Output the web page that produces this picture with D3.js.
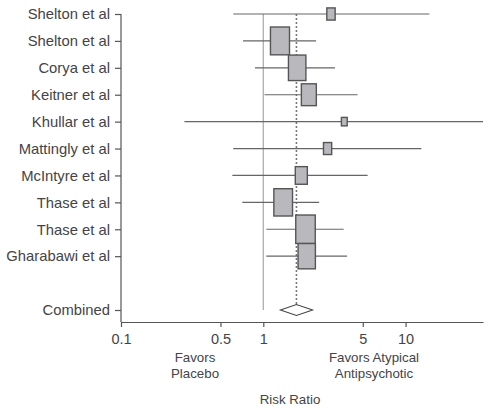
<!DOCTYPE html>
<html>
<head>
<meta charset="utf-8">
<script src="https://cdn.jsdelivr.net/npm/d3@7"></script>
<style>
  html, body { margin: 0; padding: 0; background: #fff; }
  svg { display: block; }
  text { font-family: "Liberation Sans", Arial, Helvetica, sans-serif; }
</style>
</head>
<body>
<svg id="chart" width="488" height="408"></svg>
<script>
// ---- data ----
const studies = ["Shelton et al", "Shelton et al", "Corya et al", "Keitner et al", "Khullar et al",
                 "Mattingly et al", "McIntyre et al", "Thase et al", "Thase et al", "Gharabawi et al"];
const riskRatio = [2.99, 1.31, 1.73, 2.09, 3.71, 2.83, 1.85, 1.38, 1.98, 2.02];
const ciLower   = [0.615, 0.72, 0.874, 1.02, 0.279, 0.615, 0.606, 0.712, 1.05, 1.05];
const ciUpper   = [14.7, 2.35, 3.19, 4.6, 35, 12.9, 5.41, 2.47, 3.67, 3.88];
const weights   = [3.1, 16.2, 13.6, 10.0, 1.5, 3.0, 6.5, 15.6, 17.0, 13.4];
const combined  = { label: "Combined", rr: 1.71, lower: 1.32, upper: 2.22 };
const tickValues = [0.1, 0.5, 1, 5, 10];
const tickLabels = ["0.1", "0.5", "1", "5", "10"];

// ---- layout ----
const svg = d3.select("#chart");
const axisY = 322;
const textColor = "#444";

const x = d3.scaleLog().domain([0.1, 35]).range([121, 483]);
const slots = d3.range(12);
const y = d3.scalePoint().domain(slots).range([14, 310]);
const bw = d3.scaleSqrt().domain([0, 17]).range([0, 19.5]);
const bh = d3.scaleSqrt().domain([0, 17]).range([0, 28.5]);

const rows = studies.map((s, i) => ({ label: s, rr: riskRatio[i], lo: ciLower[i], hi: ciUpper[i], w: weights[i], slot: i }));

// reference line at 1
svg.append("line")
  .attr("x1", x(1)).attr("x2", x(1))
  .attr("y1", y(0)).attr("y2", y(11))
  .attr("stroke", "#a8a8a8").attr("stroke-width", 1.2);

// dotted combined line
svg.append("line")
  .attr("x1", x(combined.rr)).attr("x2", x(combined.rr))
  .attr("y1", y(0)).attr("y2", y(11) - 5)
  .attr("stroke", "#777").attr("stroke-width", 1.6)
  .attr("stroke-dasharray", "2,2");

// CI lines
svg.append("g").selectAll("line").data(rows).join("line")
  .attr("x1", d => x(d.lo)).attr("x2", d => x(d.hi))
  .attr("y1", d => y(d.slot)).attr("y2", d => y(d.slot))
  .attr("stroke", "#666").attr("stroke-width", 1.2);

// boxes
svg.append("g").selectAll("rect").data(rows).join("rect")
  .attr("x", d => x(d.rr) - bw(d.w) / 2)
  .attr("y", d => y(d.slot) - bh(d.w) / 2)
  .attr("width", d => bw(d.w))
  .attr("height", d => bh(d.w))
  .attr("fill", "#b9b9bd").attr("stroke", "#555").attr("stroke-width", 1.4);

// combined diamond
const cy = y(11);
svg.append("path")
  .attr("d", `M${x(combined.lower)},${cy} L${x(combined.rr)},${cy - 5.5} L${x(combined.upper)},${cy} L${x(combined.rr)},${cy + 5.5} Z`)
  .attr("fill", "#fff").attr("stroke", "#444").attr("stroke-width", 1.1);

// y axis
const yLabels = studies.concat(["", combined.label]);
const yAxis = d3.axisLeft(y).tickSize(6).tickFormat(i => yLabels[i]);
const gy = svg.append("g").attr("transform", `translate(${x(0.1)},0)`).call(yAxis);
gy.select(".domain").remove();
gy.selectAll(".tick").filter(i => yLabels[i] === "").remove();
gy.selectAll(".tick line").attr("stroke", "#555").attr("stroke-width", 1.2);
gy.selectAll(".tick text").attr("fill", textColor).attr("font-size", 14.8).attr("x", -11);
svg.append("line")
  .attr("x1", x(0.1)).attr("x2", x(0.1))
  .attr("y1", y(0)).attr("y2", axisY)
  .attr("stroke", "#555").attr("stroke-width", 1.2);

// x axis
const xAxis = d3.axisBottom(x).tickValues(tickValues).tickSize(5).tickSizeOuter(0)
  .tickFormat((d, i) => tickLabels[i]);
const gx = svg.append("g").attr("transform", `translate(0,${axisY})`).call(xAxis);
gx.select(".domain").attr("stroke", "#555").attr("stroke-width", 1.2);
gx.selectAll(".tick line").attr("stroke", "#555").attr("stroke-width", 1.2);
gx.selectAll(".tick text").attr("fill", textColor).attr("font-size", 14.5).attr("dy", "0.95em");

// annotations
function multiline(cx, lines, y0) {
  const t = svg.append("text").attr("text-anchor", "middle").attr("fill", textColor).attr("font-size", 13.3);
  lines.forEach((l, i) => t.append("tspan").attr("x", cx).attr("y", y0 + i * 15.5).text(l));
}
multiline(195, ["Favors", "Placebo"], 362);
multiline(374, ["Favors Atypical", "Antipsychotic"], 362);
svg.append("text").attr("x", 290).attr("y", 404).attr("text-anchor", "middle")
  .attr("fill", textColor).attr("font-size", 13.3).text("Risk Ratio");
</script>
</body>
</html>
